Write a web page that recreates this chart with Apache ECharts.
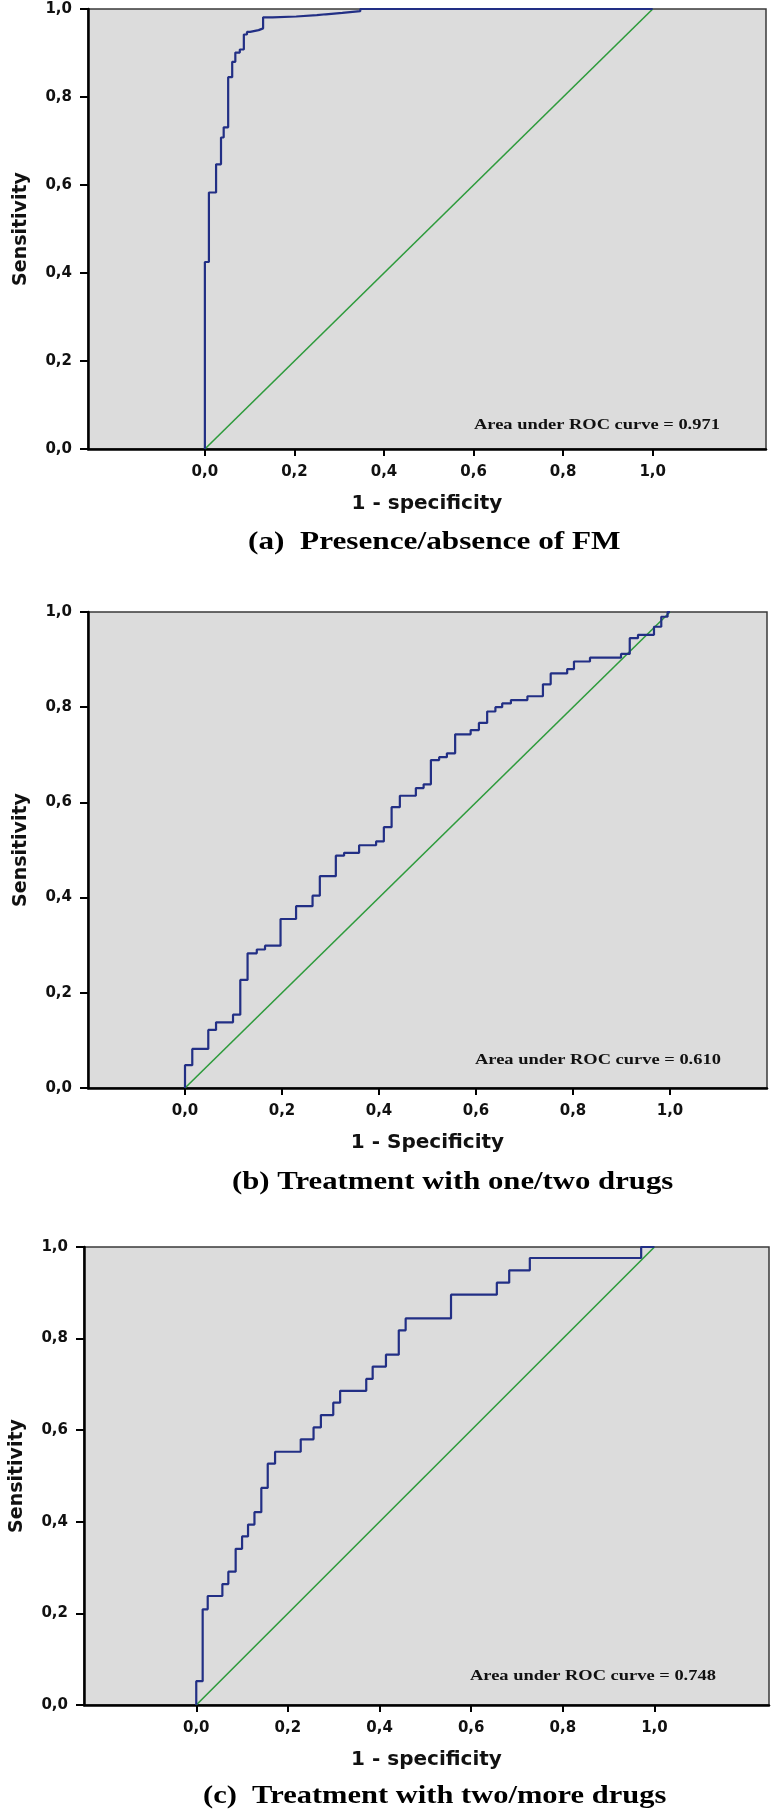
<!DOCTYPE html>
<html>
<head>
<meta charset="utf-8">
<script src="https://cdn.jsdelivr.net/npm/echarts@6.0.0/dist/echarts.min.js"></script>
<style>
  html, body { margin: 0; padding: 0; background: #fff; }
  #chart { width: 774px; height: 1815px; }
</style>
</head>
<body>
<div id="chart"></div>
<script>
// ---- Data ----
const tickValues = [0, 0.2, 0.4, 0.6, 0.8, 1.0];
const refLineX = [0, 1];
const refLineY = [0, 1];

// (a) Presence/absence of FM  -- ROC corner points (vertical at fpr up to tpr)
const fprA = [0, 0, 0.009, 0.025, 0.036, 0.042, 0.052, 0.061, 0.068, 0.078, 0.087, 0.094, 0.101, 0.12, 0.13, 0.151, 0.204, 0.25, 0.27, 0.307, 0.347, 1];
const tprA = [0, 0.425, 0.583, 0.647, 0.708, 0.731, 0.845, 0.880, 0.901, 0.908, 0.942, 0.948, 0.952, 0.956, 0.981, 0.983, 0.986, 0.988, 0.991, 0.995, 1.0, 1.0];

// (b) Treatment with one/two drugs
const fprB = [0, 0, 0.015, 0.048, 0.064, 0.099, 0.114, 0.129, 0.148, 0.165, 0.197, 0.229, 0.263, 0.278, 0.311, 0.328, 0.359, 0.394, 0.410, 0.426, 0.443, 0.476, 0.492, 0.507, 0.524, 0.540, 0.557, 0.589, 0.606, 0.623, 0.640, 0.654, 0.672, 0.706, 0.738, 0.754, 0.788, 0.802, 0.835, 0.899, 0.917, 0.934, 0.967, 0.982, 0.995, 1];
const tprB = [0, 0.048, 0.082, 0.122, 0.138, 0.154, 0.227, 0.283, 0.291, 0.299, 0.355, 0.382, 0.404, 0.445, 0.488, 0.494, 0.510, 0.518, 0.548, 0.590, 0.614, 0.630, 0.638, 0.689, 0.695, 0.703, 0.743, 0.752, 0.767, 0.791, 0.800, 0.808, 0.815, 0.823, 0.848, 0.871, 0.880, 0.896, 0.904, 0.912, 0.945, 0.952, 0.969, 0.990, 1.0, 1.0];

// (c) Treatment with two/more drugs
const fprC = [0, 0, 0.014, 0.025, 0.057, 0.070, 0.086, 0.100, 0.113, 0.127, 0.142, 0.156, 0.172, 0.228, 0.256, 0.272, 0.299, 0.314, 0.371, 0.385, 0.414, 0.442, 0.457, 0.556, 0.656, 0.683, 0.728, 0.971, 1];
const tprC = [0, 0.052, 0.209, 0.238, 0.264, 0.291, 0.341, 0.368, 0.394, 0.421, 0.474, 0.527, 0.553, 0.580, 0.606, 0.633, 0.660, 0.686, 0.712, 0.739, 0.765, 0.818, 0.844, 0.896, 0.922, 0.949, 0.976, 1.0, 1.0];

const xNames = ['1 - specificity', '1 - Specificity', '1 - specificity'];
const yName = 'Sensitivity';
const aucLabels = ['Area under ROC curve = 0.971', 'Area under ROC curve = 0.610', 'Area under ROC curve = 0.748'];
const captions = ['(a)  Presence/absence of FM', '(b) Treatment with one/two drugs', '(c)  Treatment with two/more drugs'];

// ---- Layout (pixels) ----
const layout = [
  { left: 88, top: 9,    width: 678, height: 440, xMin: -0.261, xMax: 1.253, auc: [474, 425, 1.23], cap: [248, 543, 1.25] },
  { left: 88, top: 612,  width: 679, height: 476, xMin: -0.2,   xMax: 1.2,   auc: [475, 1060, 1.23], cap: [232, 1183, 1.23] },
  { left: 82, top: 1247, width: 687, height: 458, xMin: -0.245, xMax: 1.25,  auc: [470, 1676, 1.23], cap: [203, 1797, 1.22] }
];
const curves = [[fprA, tprA], [fprB, tprB], [fprC, tprC]];

const fmt = v => v.toFixed(1).replace('.', ',');
const sansBold = { fontFamily: 'DejaVu Sans', fontWeight: 'bold', color: '#111' };

const grids = [], xAxes = [], yAxes = [], series = [], graphics = [];
layout.forEach((L, i) => {
  grids.push({
    left: L.left, top: L.top, width: L.width, height: L.height,
    show: true, backgroundColor: '#dcdcdc', borderColor: '#3a3a3a', borderWidth: 1.5
  });
  xAxes.push({
    gridIndex: i, type: 'value', min: L.xMin, max: L.xMax,
    name: xNames[i], nameLocation: 'middle', nameGap: 45,
    nameTextStyle: Object.assign({ fontSize: 20 }, sansBold),
    axisLine: { show: true, onZero: false, lineStyle: { color: '#000', width: 2.5 } },
    axisTick: { show: true, customValues: tickValues, length: 7, lineStyle: { color: '#000', width: 2 } },
    axisLabel: Object.assign({ customValues: tickValues, formatter: fmt, margin: 16, fontSize: 15 }, sansBold),
    splitLine: { show: false }
  });
  yAxes.push({
    gridIndex: i, type: 'value', min: 0, max: 1, interval: 0.2,
    name: yName, nameLocation: 'middle', nameGap: 57,
    nameTextStyle: Object.assign({ fontSize: 19 }, sansBold),
    axisLine: { show: true, onZero: false, lineStyle: { color: '#000', width: 2.5 } },
    axisTick: { show: true, length: 8, lineStyle: { color: '#000', width: 2 } },
    axisLabel: Object.assign({ formatter: fmt, margin: 16, fontSize: 15 }, sansBold),
    splitLine: { show: false }
  });
  series.push({
    type: 'line', xAxisIndex: i, yAxisIndex: i, symbol: 'none', silent: true,
    data: refLineX.map((x, k) => [x, refLineY[k]]),
    lineStyle: { color: '#2e9b3c', width: 1.6 }, z: 2
  });
  const [fpr, tpr] = curves[i];
  series.push({
    type: 'line', xAxisIndex: i, yAxisIndex: i, symbol: 'none', silent: true, step: 'end',
    data: fpr.map((x, k) => [x, tpr[k]]),
    lineStyle: { color: '#222f85', width: 2.2 }, z: 3
  });
  graphics.push({
    type: 'text', x: L.auc[0], y: L.auc[1], scaleX: L.auc[2], z: 10,
    style: { text: aucLabels[i], font: 'bold 15px "Liberation Serif", "Times New Roman", serif', fill: '#111', textAlign: 'left', textVerticalAlign: 'middle' }
  });
  graphics.push({
    type: 'text', x: L.cap[0], y: L.cap[1], scaleX: L.cap[2], z: 10,
    style: { text: captions[i], font: 'bold 25px "Liberation Serif", "Times New Roman", serif', fill: '#000', textAlign: 'left', textVerticalAlign: 'middle' }
  });
});

const chart = echarts.init(document.getElementById('chart'), null, { renderer: 'canvas', width: 774, height: 1815 });
chart.setOption({
  animation: false,
  backgroundColor: '#ffffff',
  grid: grids,
  xAxis: xAxes,
  yAxis: yAxes,
  series: series,
  graphic: graphics
});
</script>
</body>
</html>
